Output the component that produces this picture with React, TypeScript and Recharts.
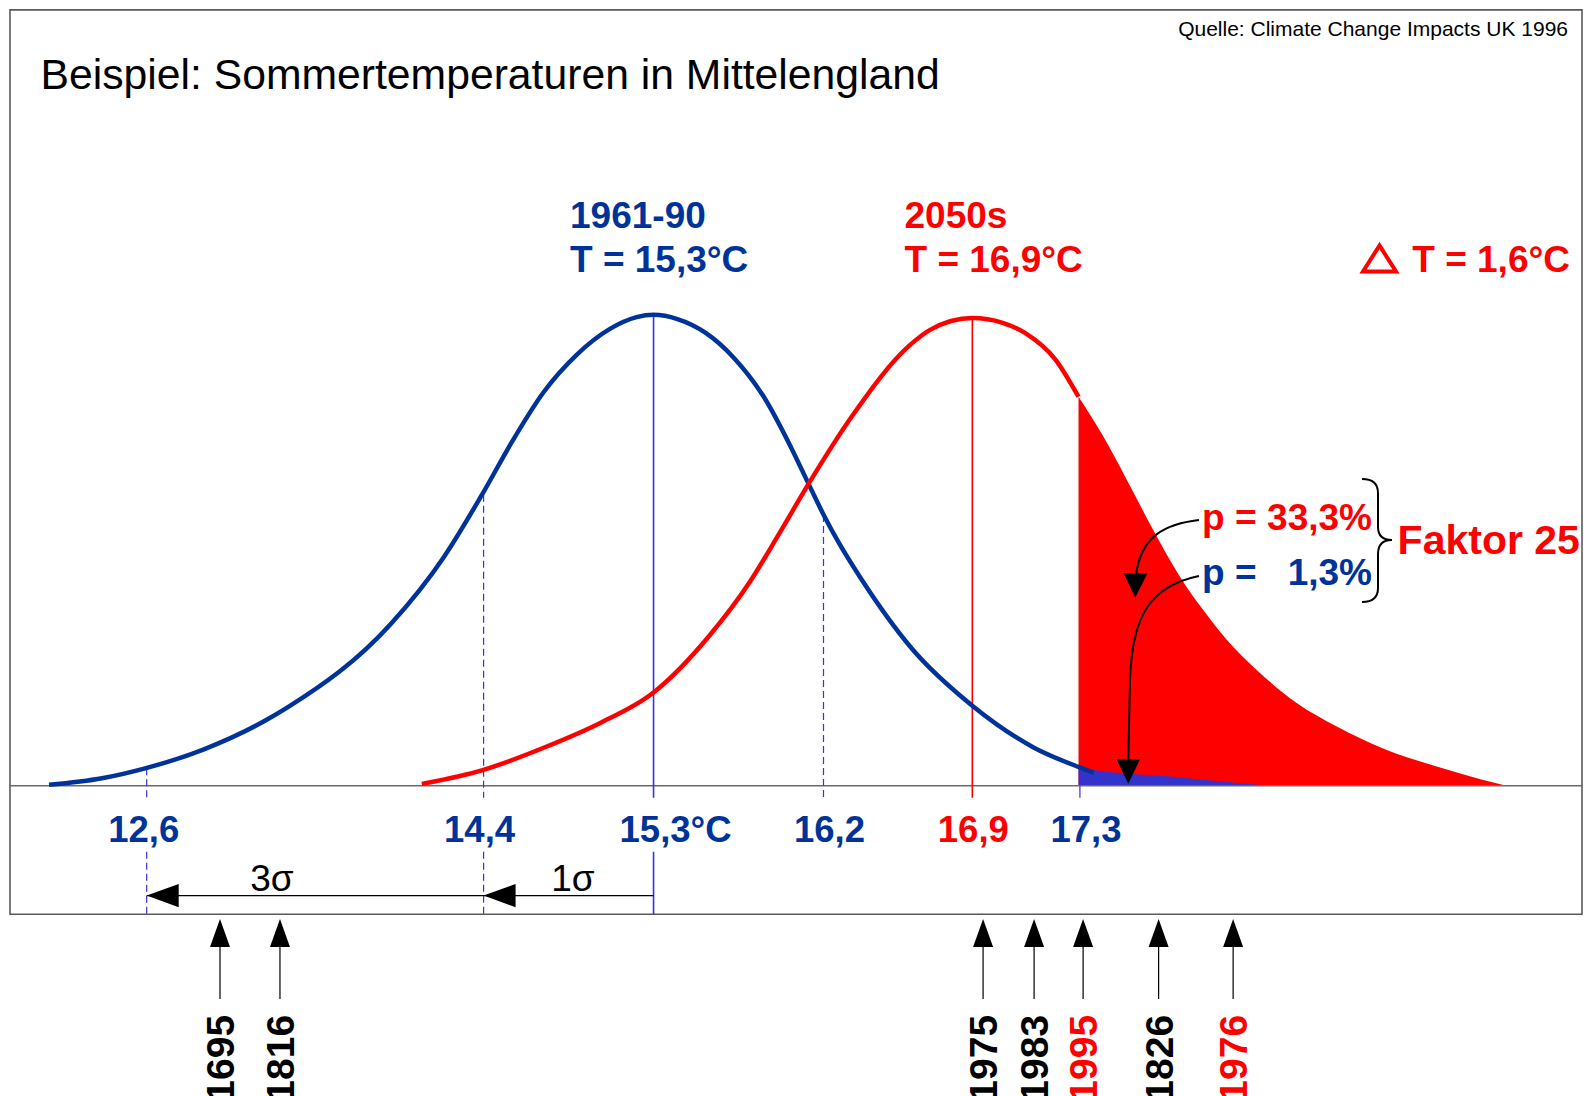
import React from 'react';
import {
  ComposedChart, Line, Area, XAxis, YAxis,
  ReferenceLine, ReferenceArea, ReferenceDot,
} from 'recharts';

// ---------- data ----------
// x: temperature scale of the drawing (°C), v: relative frequency (peak of 1961-90 = 1)
const blueCurve = [
  { t: 12.266, v: 0.002 }, { t: 12.532, v: 0.016 }, { t: 12.748, v: 0.037 },
  { t: 13.040, v: 0.077 }, { t: 13.345, v: 0.137 }, { t: 13.465, v: 0.167 },
  { t: 13.980, v: 0.343 }, { t: 14.248, v: 0.486 }, { t: 14.439, v: 0.618 },
  { t: 14.596, v: 0.735 }, { t: 14.747, v: 0.835 }, { t: 14.914, v: 0.915 },
  { t: 15.081, v: 0.970 }, { t: 15.215, v: 0.995 }, { t: 15.300, v: 1.000 },
  { t: 15.420, v: 0.991 }, { t: 15.560, v: 0.962 }, { t: 15.700, v: 0.910 },
  { t: 15.850, v: 0.828 }, { t: 16.000, v: 0.710 }, { t: 16.078, v: 0.641 },
  { t: 16.154, v: 0.575 }, { t: 16.231, v: 0.515 }, { t: 16.341, v: 0.440 },
  { t: 16.595, v: 0.292 }, { t: 16.900, v: 0.170 }, { t: 17.205, v: 0.082 },
  { t: 17.433, v: 0.040 }, { t: 17.509, v: 0.028 },
];
const redCurve = [
  { t: 14.137, v: 0.004 }, { t: 14.447, v: 0.034 }, { t: 14.767, v: 0.084 },
  { t: 15.030, v: 0.133 }, { t: 15.300, v: 0.198 }, { t: 15.579, v: 0.318 },
  { t: 15.782, v: 0.432 }, { t: 15.930, v: 0.535 }, { t: 16.078, v: 0.641 },
  { t: 16.295, v: 0.784 }, { t: 16.585, v: 0.935 }, { t: 16.688, v: 0.968 },
  { t: 16.900, v: 0.993 }, { t: 17.052, v: 0.983 }, { t: 17.166, v: 0.961 },
  { t: 17.319, v: 0.904 }, { t: 17.433, v: 0.826 },
];
const redTail = [
  { t: 17.433, v: 0.826 }, { t: 17.557, v: 0.742 }, { t: 17.675, v: 0.650 },
  { t: 17.808, v: 0.543 }, { t: 17.942, v: 0.444 }, { t: 18.059, v: 0.373 },
  { t: 18.177, v: 0.310 }, { t: 18.327, v: 0.246 }, { t: 18.528, v: 0.176 },
  { t: 18.729, v: 0.126 }, { t: 18.980, v: 0.076 }, { t: 19.231, v: 0.041 },
  { t: 19.450, v: 0.014 }, { t: 19.580, v: 0.000 },
];
const blueTail = [
  { t: 17.433, v: 0.038 }, { t: 17.600, v: 0.029 }, { t: 17.892, v: 0.0195 },
  { t: 18.150, v: 0.009 }, { t: 18.394, v: 0.000 },
];

// reference temperatures (positions as drawn) and their labels
const markerTemps = [12.756, 14.447, 15.3, 16.153, 16.9, 17.44];
const markerLabels = ['12,6', '14,4', '15,3°C', '16,2', '16,9', '17,3'];
const markerTops = [0.037, 0.618, 1.0, 0.575, 0.993, 0.0];
const markerKinds = ['dash', 'dash', 'solid', 'dash', 'red', 'thin'];
const markerLower = [true, true, true, false, false, false];
const markerLabelDx = [-3, -4, 0, 6, 1, 6];

// notable summers
const yearLabels = ['1695', '1816', '1975', '1983', '1995', '1826', '1976'];
const yearTemps = [13.124, 13.425, 16.954, 17.21, 17.456, 17.835, 18.209];
const yearRed = [false, false, false, false, true, false, true];

// σ arrows
const sigmaFrom = 15.3;
const sigmaTo = 12.756;
const sigmaHeads = [12.756, 14.447];

// ---------- layout ----------
const W = 1588;
const H = 1096;
const X_DOMAIN: [number, number] = [12.07, 19.96];
const Y_DOMAIN: [number, number] = [-0.65, 1.65];
const FRAME_BOTTOM = -0.2726;
const FRAME_TOP = 1.6473;
const LINE_GAP_TOP = -0.0255;
const LINE_GAP_BOTTOM = -0.1401;
const LABEL_Y = -0.1193;
const SIGMA_Y = -0.2331;
const YEAR_TIP = -0.2826;

const BLUE = '#003399';
const LBLUE = '#3333e6';
const RED = '#ff0000';
const FONT = '"Liberation Sans", Arial, Helvetica, sans-serif';

const markerStroke = (k: string) => (k === 'red' ? RED : LBLUE);

export default function App() {
  return (
    <div style={{ position: 'absolute', left: 0, top: 0, width: W, height: H, background: '#fff' }}>
      <ComposedChart
        width={W}
        height={H}
        margin={{ top: 8.65, right: 6, bottom: 4.05, left: 10 }}
      >
        <XAxis type="number" dataKey="t" domain={X_DOMAIN} hide allowDataOverflow />
        <YAxis type="number" domain={Y_DOMAIN} hide allowDataOverflow />

        <ReferenceArea
          x1={X_DOMAIN[0]} x2={X_DOMAIN[1]} y1={FRAME_BOTTOM} y2={FRAME_TOP}
          fill="none" fillOpacity={0} stroke="#5a5a5a" strokeWidth={1.6} ifOverflow="visible"
        />
        <ReferenceLine y={0} stroke="#6a6a6a" strokeWidth={1.6} ifOverflow="visible" />

        <Area
          data={redTail} dataKey="v" type="monotone" baseValue={0}
          fill={RED} fillOpacity={1} stroke="none" isAnimationActive={false}
        />
        <Area
          data={blueTail} dataKey="v" type="monotone" baseValue={0}
          fill="#3333cc" fillOpacity={1} stroke="none" isAnimationActive={false}
        />

        {markerTemps.map((t, i) => (
          <ReferenceLine
            key={'m' + i}
            segment={[{ x: t, y: markerTops[i] }, { x: t, y: LINE_GAP_TOP }]}
            stroke={markerStroke(markerKinds[i])}
            strokeWidth={markerKinds[i] === 'dash' || markerKinds[i] === 'thin' ? 1.2 : 1.6}
            strokeDasharray={markerKinds[i] === 'dash' ? '7 4' : undefined}
            ifOverflow="visible"
          />
        ))}
        {markerTemps.map((t, i) =>
          markerLower[i] ? (
            <ReferenceLine
              key={'ml' + i}
              segment={[{ x: t, y: LINE_GAP_BOTTOM }, { x: t, y: FRAME_BOTTOM }]}
              stroke={LBLUE}
              strokeWidth={markerKinds[i] === 'dash' ? 1.2 : 1.6}
              strokeDasharray={markerKinds[i] === 'dash' ? '7 4' : undefined}
              ifOverflow="visible"
            />
          ) : null
        )}

        <Line
          data={blueCurve} dataKey="v" type="monotone" stroke={BLUE} strokeWidth={4.5}
          dot={false} isAnimationActive={false} strokeLinecap="butt"
        />
        <Line
          data={redCurve} dataKey="v" type="monotone" stroke={RED} strokeWidth={4.5}
          dot={false} isAnimationActive={false} strokeLinecap="butt"
        />

        {markerTemps.map((t, i) => (
          <ReferenceDot
            key={'lab' + i}
            x={t} y={LABEL_Y} r={0} ifOverflow="visible"
            shape={(p: any) => (
              <text
                x={i === 2 ? p.cx - 34 : p.cx + markerLabelDx[i]}
                y={p.cy}
                textAnchor={i === 2 ? 'start' : 'middle'}
                fontFamily={FONT} fontWeight="bold" fontSize={36.5}
                fill={markerKinds[i] === 'red' ? RED : BLUE}
              >
                {markerLabels[i]}
              </text>
            )}
          />
        ))}

        <ReferenceLine
          segment={[{ x: sigmaFrom, y: SIGMA_Y }, { x: sigmaTo, y: SIGMA_Y }]}
          stroke="#000" strokeWidth={1.2} ifOverflow="visible"
        />
        {sigmaHeads.map((t, i) => (
          <ReferenceDot
            key={'sh' + i}
            x={t} y={SIGMA_Y} r={0} ifOverflow="visible"
            shape={(p: any) => (
              <polygon
                points={`${p.cx},${p.cy} ${p.cx + 32},${p.cy - 11.7} ${p.cx + 32},${p.cy + 11.7}`}
                fill="#000"
              />
            )}
          />
        ))}

        {yearTemps.map((t, i) => (
          <ReferenceDot
            key={'y' + i}
            x={t} y={YEAR_TIP} r={0} ifOverflow="visible"
            shape={(p: any) => (
              <g>
                <polygon
                  points={`${p.cx},${p.cy} ${p.cx - 10},${p.cy + 28} ${p.cx + 10},${p.cy + 28}`}
                  fill="#000"
                />
                <line x1={p.cx} y1={p.cy + 27} x2={p.cx} y2={p.cy + 80} stroke="#000" strokeWidth={1.2} />
                <text
                  x={p.cx + 14} y={p.cy + 96}
                  transform={`rotate(-90 ${p.cx + 14} ${p.cy + 96})`}
                  textAnchor="end"
                  fontFamily={FONT} fontWeight="bold" fontSize={39}
                  fill={yearRed[i] ? RED : '#000'}
                >
                  {yearLabels[i]}
                </text>
              </g>
            )}
          />
        ))}
      </ComposedChart>

      <svg
        width={W} height={H}
        style={{ position: 'absolute', left: 0, top: 0, pointerEvents: 'none' }}
      >
        <g fontFamily={FONT}>
          <text x={40.5} y={89} fontSize={42.7} fill="#000">
            Beispiel: Sommertemperaturen in Mittelengland
          </text>
          <text x={1568} y={35.5} fontSize={21} textAnchor="end" fill="#000">
            Quelle: Climate Change Impacts UK 1996
          </text>

          <g fontWeight="bold" fontSize={37}>
            <text x={570} y={228} fill={BLUE}>1961-90</text>
            <text x={570} y={271.5} fill={BLUE}>T = 15,3°C</text>
            <text x={904.5} y={228} fill={RED}>2050s</text>
            <text x={904.5} y={271.5} fill={RED}>T = 16,9°C</text>
            <text x={1570} y={271.5} fill={RED} textAnchor="end">T = 1,6°C</text>

            <text x={1202} y={529.5} fill={RED}>p =</text>
            <text x={1372} y={529.5} fill={RED} textAnchor="end">33,3%</text>
            <text x={1202} y={585} fill={BLUE}>p =</text>
            <text x={1372} y={585} fill={BLUE} textAnchor="end">1,3%</text>
          </g>
          <text x={1397.6} y={553.5} fontWeight="bold" fontSize={41} fill={RED}>Faktor 25</text>

          <text x={272} y={891} fontSize={37} textAnchor="middle" fill="#000">3σ</text>
          <text x={573} y={891} fontSize={37} textAnchor="middle" fill="#000">1σ</text>
        </g>

        <polygon points="1363,271.5 1396,271.5 1379.5,245.5" fill="none" stroke={RED} strokeWidth={4} />

        <path
          d="M1362,479 Q1378,479 1378,493 L1378,527 Q1378,540 1392,540 Q1378,540 1378,554 L1378,588 Q1378,602 1362,602"
          fill="none" stroke="#000" strokeWidth={2}
        />

        <path d="M1199,520 C1165,524 1141,536 1136,575" fill="none" stroke="#000" strokeWidth={2} />
        <polygon points="1123.5,573.3 1147.5,573.3 1135.3,597.5" fill="#000" />
        <path d="M1199,576 C1150,586 1132,616 1130,680 L1128.3,761" fill="none" stroke="#000" strokeWidth={2} />
        <polygon points="1116.5,759.3 1140,759.3 1128.3,783.8" fill="#000" />
      </svg>
    </div>
  );
}
